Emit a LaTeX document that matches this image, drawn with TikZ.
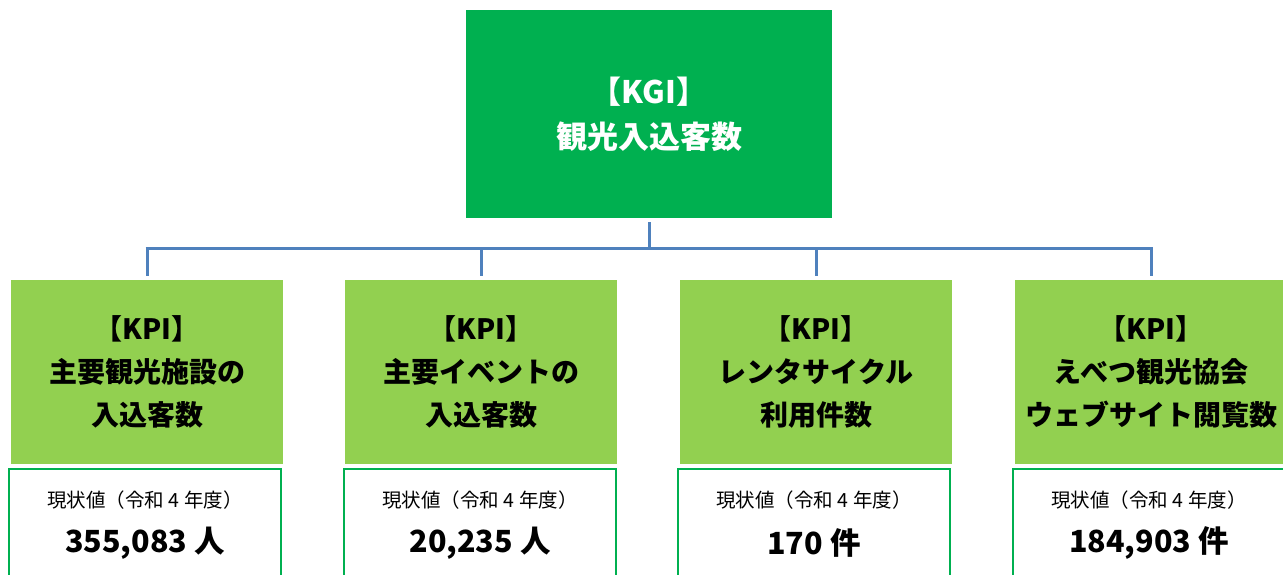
\documentclass[tikz,border=0pt]{standalone}
\usepackage{fontspec}
\setmainfont{Noto Sans CJK JP}
\begin{document}
\begin{tikzpicture}[x=1pt,y=-1pt,
  kgibox/.style={fill=kgigreen, draw=none, minimum width=366pt, minimum height=208pt, inner sep=0pt,
    text=white, align=center, font=\fontsize{31}{45}\selectfont\bfseries},
  kpibox/.style={fill=kpigreen, draw=none, minimum width=272pt, minimum height=184pt, inner sep=0pt,
    text=black, align=center, font=\fontsize{28}{43}\selectfont\bfseries},
  valbox/.style={fill=white, draw=kgigreen, line width=2pt, minimum width=272pt, minimum height=140pt, inner sep=0pt},
  lbl/.style={font=\fontsize{19.5}{24}\selectfont, text=black, inner sep=0pt},
  num/.style={font=\fontsize{30.5}{36}\selectfont\bfseries, text=black, inner sep=0pt},
  conn/.style={draw=connblue, line width=3pt}
]
\definecolor{kgigreen}{HTML}{00B050}
\definecolor{kpigreen}{HTML}{92D050}
\definecolor{connblue}{HTML}{4F81BD}
\useasboundingbox (0,0) rectangle (1283,575);
\begin{scope}
\clip (0,0) rectangle (1283,575);

\node[kgibox] (kgi) at (649,114) {【KGI】\\観光入込客数};

\node[kpibox] (kpi1) at (147,372) {【KPI】\\主要観光施設の\\入込客数};
\node[kpibox] (kpi2) at (481,372) {【KPI】\\主要イベントの\\入込客数};
\node[kpibox] (kpi3) at (816,372) {【KPI】\\レンタサイクル\\利用件数};
\node[kpibox] (kpi4) at (1151,372) {【KPI】\\えべつ観光協会\\ウェブサイト閲覧数};

\node[valbox] (val1) at (145,539) {};
\node[valbox] (val2) at (480,539) {};
\node[valbox] (val3) at (814,539) {};
\node[valbox] (val4) at (1149,539) {};

\foreach \i/\x/\v in {1/145/{355,083 人},2/480/{20,235 人},3/814/{170 件},4/1149/{184,903 件}}{
  \node[lbl] (lab\i) at (\x,500) {現状値（令和 4 年度）};
  \node[num] (num\i) at (\x,543) {\v};
}

\coordinate (bar) at (0,248);
\draw[conn, shorten <=4pt] (kgi.south) -- (kgi.south |- bar);
\draw[conn, line cap=butt] ([xshift=-1.5pt]kpi1.north |- bar) -- ([xshift=1.5pt]kpi4.north |- bar);
\foreach \i in {1,2,3,4}{
  \draw[conn, shorten >=4pt] (kpi\i.north |- bar) -- (kpi\i.north);
}
\end{scope}
\end{tikzpicture}
\end{document}
